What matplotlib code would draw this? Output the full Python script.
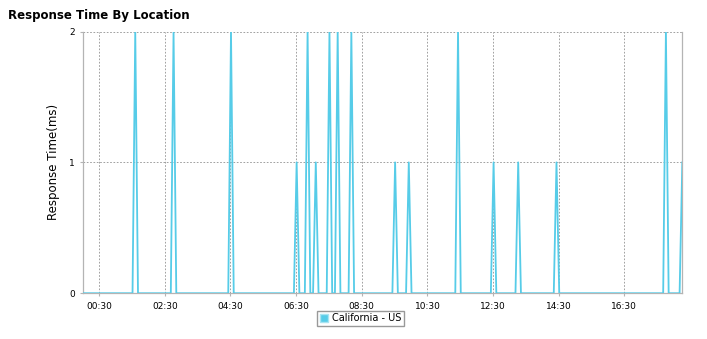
import matplotlib
matplotlib.use('Agg')
import matplotlib.pyplot as plt
from matplotlib.patches import Patch
import pandas as pd

# data: 5-minute samples, zero except for the spikes listed below
day = '2015-01-01 '
start_time = '00:01'
end_time = '18:16'
spike_times = ['01:36', '02:46', '04:31', '06:31', '06:51', '07:06', '07:31', '07:46',
               '08:11', '09:31', '09:56', '11:26', '12:31', '13:16', '14:26', '17:46', '18:16']
spike_values = [2, 2, 2, 1, 2, 1, 2, 2, 2, 1, 1, 2, 1, 1, 1, 2, 1]
tick_labels = ['00:30', '02:30', '04:30', '06:30', '08:30', '10:30', '12:30', '14:30', '16:30']
series_name = 'California - US'

times = pd.date_range(day + start_time, day + end_time, freq='5min')
values = pd.Series(0.0, index=times)
for t, v in zip(spike_times, spike_values):
    values[pd.Timestamp(day + t)] = v

line_col = '#56CCE8'
grid_col = '#909090'
spine_col = '#b4b4b4'

fig = plt.figure(figsize=(7.07, 3.39), dpi=100)
ax = fig.add_axes([0.1178, 0.135, 0.8473, 0.772])

ax.plot(values.index, values.values, color=line_col, lw=1.3, zorder=3)

ax.set_xlim(times[0], times[-1])
ax.set_ylim(0, 2)
ax.set_yticks([0, 1, 2])
ax.set_xticks([pd.Timestamp(day + t) for t in tick_labels])
ax.set_xticklabels(tick_labels)
ax.tick_params(labelsize=6.5, length=2, color=spine_col, pad=4)

ax.grid(True, color=grid_col, linestyle=(0, (2, 2)), lw=0.6)
for s in ['left', 'bottom', 'right']:
    ax.spines[s].set_color(spine_col)
    ax.spines[s].set_linewidth(0.9)
ax.spines['top'].set_visible(False)

ax.set_ylabel('Response Time(ms)', fontsize=8.5)
ax.yaxis.set_label_coords(-0.039, 0.5)

fig.text(0.011, 0.953, 'Response Time By Location', fontsize=8.5,
         fontweight='bold', va='center', ha='left')

handle = Patch(facecolor=line_col, edgecolor='#a8e4f2', label=series_name)
fig.legend(handles=[handle], loc='center', bbox_to_anchor=(0.510, 0.061),
           fontsize=7, frameon=True, fancybox=False, edgecolor='#808080',
           handlelength=0.9, handleheight=0.9, handletextpad=0.4,
           borderpad=0.25, borderaxespad=0)

fig.savefig('out.png', dpi=100)
